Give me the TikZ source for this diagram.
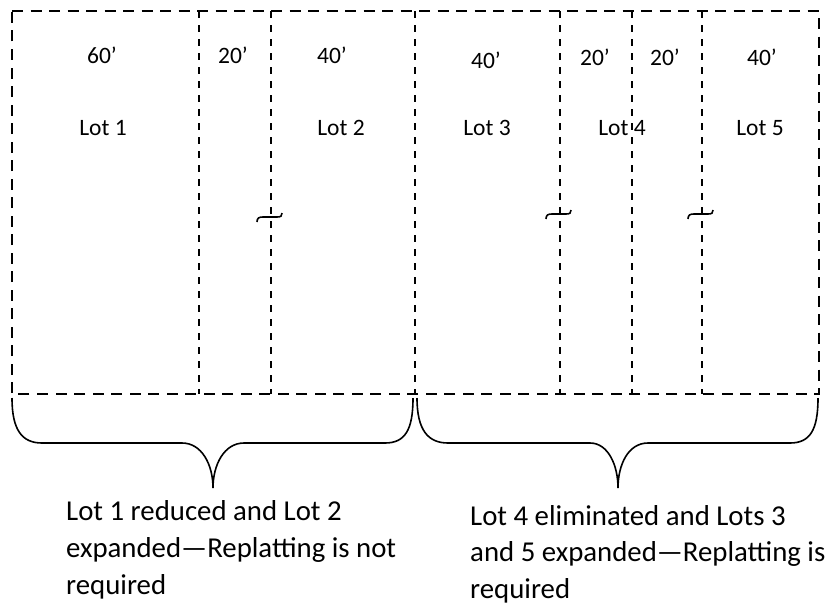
\documentclass[tikz,border=0pt]{standalone}
\usepackage{fontspec}
\setmainfont{Carlito}
\begin{document}
\begin{tikzpicture}[x=1pt,y=-1pt,
  outerline/.style={line width=2.6pt, dash pattern=on 11pt off 7.5pt},
  divider/.style={line width=1.5pt, dash pattern=on 7pt off 7pt},
  bracepath/.style={line width=1.6pt},
  tildemark/.style={line width=1.6pt},
  lbl/.style={font=\fontsize{23.5}{28}\selectfont, inner sep=0pt, anchor=base},
  capline/.style={font=\fontsize{28.8}{35}\selectfont, inner sep=0pt, anchor=base west}]
\useasboundingbox (0,0) rectangle (837,613);
% corners and divider ends
\foreach \n/\x in {0/12,1/199,2/271,3/415,4/560,5/632,6/702,7/819}{
  \coordinate (t\n) at (\x,11);
  \coordinate (b\n) at (\x,394);
}
% dividers
\foreach \n in {1,...,6}{ \draw[divider] (t\n) -- (b\n); }
% outer frame
\draw[outerline] (t0) -- (t7) -- (b7) -- (b0) -- cycle;
% tilde marks
\foreach \x/\y in {271/217,560/214,702/214}{
  \draw[tildemark] (\x-14,\y+5) .. controls (\x-14,\y+1) and (\x-12,\y) .. (\x-8,\y)
     -- (\x+6,\y) .. controls (\x+10,\y) and (\x+11,\y-1) .. (\x+11,\y-4);
}
% labels
\node[lbl] (d1) at (102,63) {60’};
\node[lbl] (d2) at (233,63) {20’};
\node[lbl] (d3) at (332,63) {40’};
\node[lbl] (d4) at (486,68) {40’};
\node[lbl] (d5) at (595,65) {20’};
\node[lbl] (d6) at (665,65) {20’};
\node[lbl] (d7) at (762,65) {40’};
\node[lbl] (l1) at (103,135) {Lot 1};
\node[lbl] (l2) at (341,135) {Lot 2};
\node[lbl] (l3) at (487,135) {Lot 3};
\node[lbl] (l4) at (622,135) {Lot 4};
\node[lbl] (l5) at (760,135) {Lot 5};
% braces
\draw[bracepath] (12,398) .. controls (12,430) and (22,443) .. (42,443) -- (182,443)
  .. controls (202,443) and (213,465) .. (213,488)
  .. controls (213,465) and (224,443) .. (244,443) -- (385,443)
  .. controls (405,443) and (413,430) .. (413,398);
\draw[bracepath] (417,398) .. controls (417,430) and (428,443) .. (448,443) -- (590,443)
  .. controls (608,443) and (618,465) .. (618,488)
  .. controls (618,465) and (628,443) .. (648,443) -- (790,443)
  .. controls (810,443) and (818,430) .. (818,398);
% captions
\node[capline] (c1) at (66,520) {Lot 1 reduced and Lot 2};
\node[capline] (c2) at (66,557) {expanded—Replatting is not};
\node[capline] (c3) at (66,594) {required};
\node[capline] (c4) at (470,525) {Lot 4 eliminated and Lots 3};
\node[capline] (c5) at (470,561) {and 5 expanded—Replatting is};
\node[capline] (c6) at (470,598) {required};
\end{tikzpicture}
\end{document}
